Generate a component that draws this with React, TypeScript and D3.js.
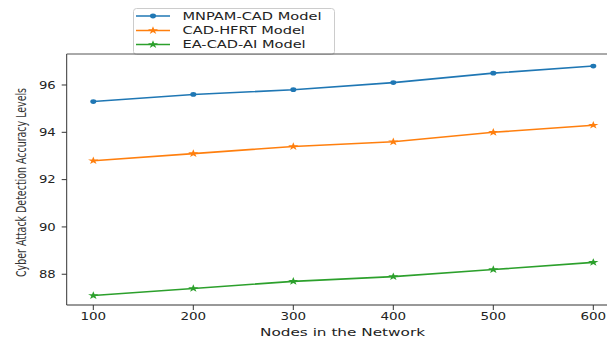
import { useRef, useEffect } from "react";
import * as d3 from "d3";

// ── Data ────────────────────────────────────────────────────────────
const NODES = [100, 200, 300, 400, 500, 600];
const MNPAM_CAD = [95.3, 95.6, 95.8, 96.1, 96.5, 96.8];
const CAD_HFRT = [92.8, 93.1, 93.4, 93.6, 94.0, 94.3];
const EA_CAD_AI = [87.1, 87.4, 87.7, 87.9, 88.2, 88.5];
const X_TICKS = [100, 200, 300, 400, 500, 600];
const Y_TICKS = [88, 90, 92, 94, 96];
const SERIES_NAMES = ["MNPAM-CAD Model", "CAD-HFRT Model", "EA-CAD-AI Model"];

const COLORS = ["#1f77b4", "#ff7f0e", "#2ca02c"];
const FONT = "DejaVu Sans, sans-serif";
const W = 607;
const H = 341;

export default function App() {
  const svgRef = useRef<SVGSVGElement>(null);

  useEffect(() => {
    if (!svgRef.current) return;
    const svg = d3.select(svgRef.current);
    svg.selectAll("*").remove();

    const left = 66.7, top = 54, bottom = 305;
    const x = d3.scaleLinear().domain([73.4, 630]).range([left, left + 556.6]);
    const y = d3.scaleLinear().domain([86.7, 97.31]).range([bottom, top]);

    svg.append("rect").attr("width", W).attr("height", H).attr("fill", "#fff");

    const series = [MNPAM_CAD, CAD_HFRT, EA_CAD_AI];

    // ── Lines + markers ───────────────────────────────────────────
    const line = d3.line<number>()
      .x((_, i) => x(NODES[i]))
      .y((d) => y(d));

    const star = d3.symbol().type(d3.symbolStar).size(20);

    series.forEach((vals, si) => {
      svg.append("path")
        .attr("d", line(vals))
        .attr("fill", "none")
        .attr("stroke", COLORS[si])
        .attr("stroke-width", 1.6);

      vals.forEach((v, i) => {
        const cx = x(NODES[i]);
        const cy = y(v);
        if (si === 0) {
          svg.append("ellipse")
            .attr("cx", cx).attr("cy", cy)
            .attr("rx", 3).attr("ry", 2.4)
            .attr("fill", COLORS[si]);
        } else {
          svg.append("path")
            .attr("d", star())
            .attr("transform", `translate(${cx},${cy}) scale(1.3,1)`)
            .attr("fill", COLORS[si]);
        }
      });
    });

    // ── Spines ────────────────────────────────────────────────────
    svg.append("line")
      .attr("x1", left).attr("x2", left)
      .attr("y1", top).attr("y2", bottom)
      .attr("stroke", "#333").attr("stroke-width", 1);
    svg.append("line")
      .attr("x1", left).attr("x2", W)
      .attr("y1", bottom).attr("y2", bottom)
      .attr("stroke", "#333").attr("stroke-width", 1);

    // ── Y ticks ───────────────────────────────────────────────────
    Y_TICKS.forEach((t) => {
      const ty = y(t);
      svg.append("line")
        .attr("x1", left - 5).attr("x2", left)
        .attr("y1", ty).attr("y2", ty)
        .attr("stroke", "#333");
      svg.append("text")
        .attr("transform", `translate(${left - 11},${ty + 3.6}) scale(1.32,1)`)
        .attr("text-anchor", "end")
        .attr("font-family", FONT)
        .attr("font-size", 10)
        .attr("fill", "#222")
        .text(String(t));
    });

    // ── X ticks ───────────────────────────────────────────────────
    X_TICKS.forEach((t) => {
      const tx = x(t);
      svg.append("line")
        .attr("x1", tx).attr("x2", tx)
        .attr("y1", bottom).attr("y2", bottom + 5)
        .attr("stroke", "#333");
      svg.append("text")
        .attr("transform", `translate(${tx},${bottom + 14.5}) scale(1.35,1)`)
        .attr("text-anchor", "middle")
        .attr("font-family", FONT)
        .attr("font-size", 10)
        .attr("fill", "#222")
        .text(String(t));
    });

    // ── Axis labels ───────────────────────────────────────────────
    svg.append("text")
      .attr("x", 342.5)
      .attr("y", 335.5)
      .attr("text-anchor", "middle")
      .attr("font-family", FONT)
      .attr("font-size", 10)
      .attr("fill", "#222")
      .attr("textLength", 165)
      .attr("lengthAdjust", "spacingAndGlyphs")
      .text("Nodes in the Network");

    svg.append("text")
      .attr("transform", `translate(25.5,182.5) scale(1.4,1) rotate(-90)`)
      .attr("text-anchor", "middle")
      .attr("font-family", FONT)
      .attr("font-size", 9.5)
      .attr("fill", "#333")
      .attr("textLength", 189)
      .attr("lengthAdjust", "spacingAndGlyphs")
      .text("Cyber Attack Detection Accuracy Levels");

    // ── Legend ────────────────────────────────────────────────────
    const lg = svg.append("g");
    lg.append("rect")
      .attr("x", 133.5).attr("y", 8.5)
      .attr("width", 201).attr("height", 46)
      .attr("rx", 3)
      .attr("fill", "#fff")
      .attr("stroke", "#cccccc");

    const rowY = [16, 30.5, 44.5];
    SERIES_NAMES.forEach((name, si) => {
      const ry = rowY[si];
      lg.append("line")
        .attr("x1", 136).attr("x2", 170)
        .attr("y1", ry).attr("y2", ry)
        .attr("stroke", COLORS[si])
        .attr("stroke-width", 1.6);
      if (si === 0) {
        lg.append("ellipse")
          .attr("cx", 153).attr("cy", ry)
          .attr("rx", 3).attr("ry", 2.4)
          .attr("fill", COLORS[si]);
      } else {
        lg.append("path")
          .attr("d", star())
          .attr("transform", `translate(153,${ry}) scale(1.3,1)`)
          .attr("fill", COLORS[si]);
      }
      lg.append("text")
        .attr("transform", `translate(182.5,${ry + 3.6}) scale(1.46,1)`)
        .attr("font-family", FONT)
        .attr("font-size", 10)
        .attr("fill", "#222")
        .text(name);
    });

    // top spine drawn over the legend's lower edge
    svg.append("line")
      .attr("x1", left).attr("x2", W)
      .attr("y1", top).attr("y2", top)
      .attr("stroke", "#555").attr("stroke-width", 1);
  }, []);

  return (
    <div style={{ position: "fixed", left: 0, top: 0 }}>
      <svg ref={svgRef} width={W} height={H} style={{ display: "block" }} />
    </div>
  );
}
